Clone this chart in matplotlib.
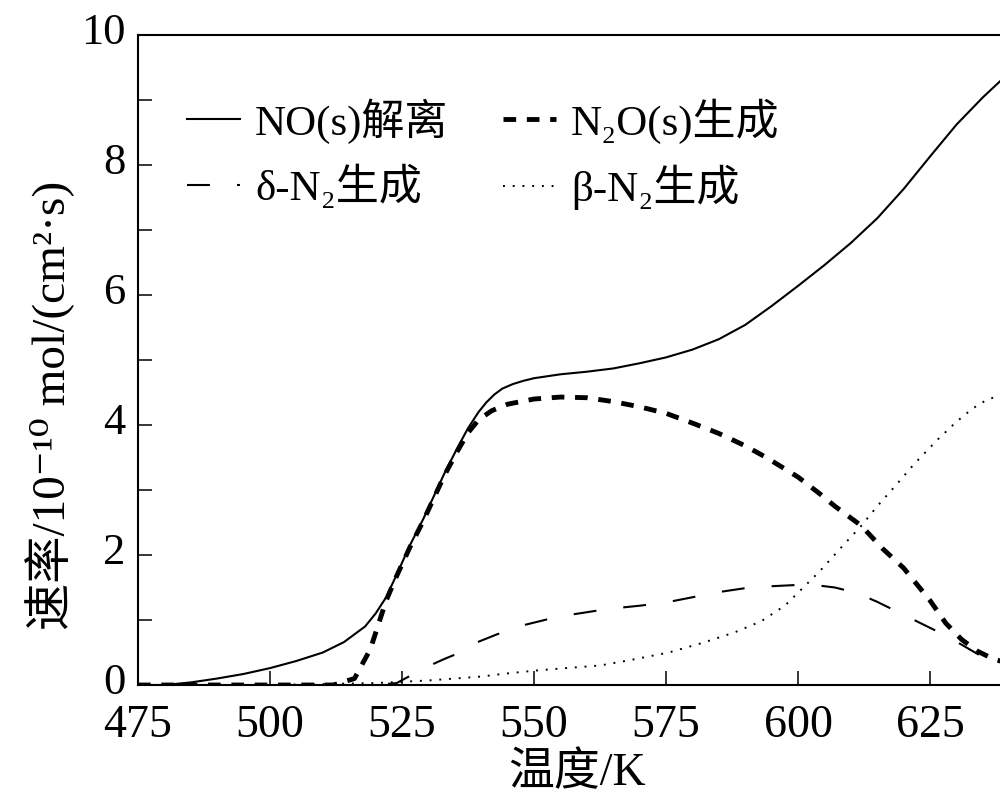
import matplotlib
matplotlib.use('Agg')
import matplotlib.pyplot as plt
from matplotlib.lines import Line2D
from matplotlib.transforms import ScaledTranslation

plt.rcParams['font.family'] = ['Liberation Serif', 'DejaVu Serif', 'Noto Sans CJK SC']

# temperature (K) / rate (1e-10 mol/(cm^2*s))
no_T = [475, 480, 485, 490, 495, 500, 505, 510, 514, 518, 520, 522, 524, 526.5, 529,
        531, 533, 535.5, 537.5, 539.5, 541, 542.5, 544, 546, 548, 550, 555, 560, 565,
        570, 575, 580, 585, 590, 595, 600, 605, 610, 615, 620, 625, 630, 635, 640, 645]
no_rate = [0.0, 0.0, 0.04, 0.1, 0.17, 0.26, 0.37, 0.5, 0.66, 0.9, 1.1, 1.35, 1.7, 2.15, 2.55,
           2.9, 3.25, 3.65, 3.95, 4.2, 4.35, 4.47, 4.56, 4.63, 4.68, 4.72, 4.78, 4.82, 4.87,
           4.95, 5.04, 5.16, 5.32, 5.54, 5.83, 6.14, 6.46, 6.8, 7.18, 7.63, 8.13, 8.62, 9.04,
           9.42, 9.75]

n2o_T = [475, 500, 512, 516, 519, 522, 524, 526.5, 529, 531, 533, 535.5, 537.5, 539.5, 542,
         545, 550, 555, 560, 565, 570, 575, 580, 585, 590, 594, 600, 604, 607, 612, 616,
         620, 625, 628, 631, 634, 637, 640, 645]
n2o_rate = [0.0, 0.0, 0.0, 0.1, 0.55, 1.3, 1.68, 2.12, 2.52, 2.87, 3.22, 3.6, 3.88, 4.08, 4.22,
            4.32, 4.4, 4.43, 4.42, 4.36, 4.28, 4.18, 4.03, 3.87, 3.68, 3.5, 3.2, 2.95, 2.75,
            2.45, 2.1, 1.8, 1.3, 0.95, 0.7, 0.52, 0.4, 0.33, 0.28]

delta_T = [475, 520, 524, 526.5, 530, 533, 536, 539, 543, 548, 554.5, 560, 564, 570, 575,
           580, 585, 590, 595, 600, 603, 607, 611, 615, 619, 623, 627, 631, 635, 640, 645]
delta_rate = [0.0, 0.0, 0.03, 0.14, 0.29, 0.4, 0.5, 0.65, 0.78, 0.92, 1.05, 1.12, 1.17, 1.22,
              1.27, 1.35, 1.43, 1.49, 1.52, 1.54, 1.54, 1.5, 1.42, 1.28, 1.12, 0.96, 0.8,
              0.62, 0.43, 0.28, 0.2]

beta_T = [475, 500, 520, 530, 540, 544, 550, 556, 562.5, 568, 575.5, 582, 588, 593, 597.5,
          601, 604, 608, 612, 615, 618.5, 622, 626.5, 630, 633, 636, 640, 645]
beta_rate = [0.0, 0.0, 0.03, 0.07, 0.13, 0.17, 0.22, 0.26, 0.3, 0.38, 0.5, 0.65, 0.81, 0.98,
             1.22, 1.5, 1.74, 2.1, 2.45, 2.75, 3.07, 3.4, 3.78, 4.05, 4.25, 4.4, 4.48, 4.52]

x_ticks = [475, 500, 525, 550, 575, 600, 625]
y_ticks = [0, 2, 4, 6, 8, 10]
y_minor = [1, 3, 5, 7, 9]

fig = plt.figure(figsize=(10, 8.01), dpi=100)
ax = fig.add_axes([0.138, 0.1448, 0.8976, 0.8115])

ax.plot(no_T, no_rate, color='black', lw=1.5, solid_capstyle='butt')
ax.plot(delta_T, delta_rate, color='black', lw=1.5, dashes=(11, 13))
ax.plot(n2o_T, n2o_rate, color='black', lw=3.5, dashes=(2.6, 2.2))
ax.plot(beta_T, beta_rate, color='black', lw=1.4, dashes=(1, 4))

ax.set_xlim(475, 645)
ax.set_ylim(0, 10)
ax.set_xticks(x_ticks)
ax.set_yticks(y_ticks)
ax.set_yticks(y_minor, minor=True)
ax.tick_params(axis='both', which='both', direction='in', length=10, width=1.1)
ax.tick_params(axis='x', labelsize=33, pad=14)
ax.tick_params(axis='y', labelsize=32, pad=9)
for s in ax.spines.values():
    s.set_linewidth(1.5)

# y tick labels sit a little above their ticks in the reference
shift = ScaledTranslation(0, 5 / 72, fig.dpi_scale_trans)
for lbl in ax.get_yticklabels():
    lbl.set_transform(lbl.get_transform() + shift)

ax.set_xlabel('温度/K', fontsize=33, va='top')
ax.xaxis.set_label_coords(0.489, -0.104)
ax.set_ylabel('速率/10⁻¹⁰ mol/(cm²·s)', fontsize=34)
ax.yaxis.set_label_coords(-0.07, 0.43)

handles = [
    Line2D([], [], color='black', lw=1.5),
    Line2D([], [], color='black', lw=1.5, dashes=(11, 13)),
    Line2D([], [], color='black', lw=3.5, dashes=(2.6, 2.2)),
    Line2D([], [], color='black', lw=1.4, dashes=(1, 4)),
]
labels = ['NO(s)解离', 'δ-N₂生成', 'N₂O(s)生成', 'β-N₂生成']
ax.legend(handles, labels, ncol=2, loc='upper left', bbox_to_anchor=(0.0546, 0.903),
          frameon=False, fontsize=31, handlelength=1.23, handletextpad=0.35,
          columnspacing=1.27, labelspacing=0.48, borderpad=0, borderaxespad=0)

fig.savefig('out.png', dpi=100)
